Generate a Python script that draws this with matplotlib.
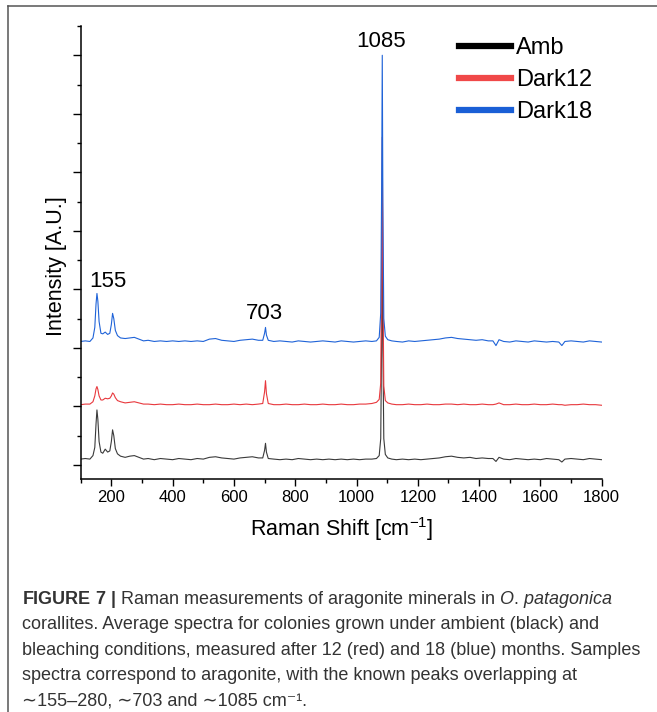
import matplotlib
matplotlib.use('Agg')
import matplotlib.pyplot as plt
from matplotlib.lines import Line2D
from matplotlib.ticker import MultipleLocator

# Raman shift [cm-1] sampled from the figure
wavenumber = [100, 115, 130, 140, 146, 150, 153, 156, 160, 166,
              172, 180, 188, 195, 200, 204, 208, 213, 220, 230,
              245, 260, 275, 290, 305, 320, 340, 360, 380, 400,
              420, 440, 460, 480, 500, 520, 540, 560, 580, 600,
              620, 640, 660, 680, 694, 700, 703, 706, 712, 730,
              750, 770, 790, 810, 830, 850, 870, 890, 910, 930,
              950, 970, 990, 1010, 1030, 1050, 1065, 1074, 1079, 1082,
              1084, 1086, 1089, 1094, 1102, 1115, 1130, 1150, 1170, 1190,
              1210, 1230, 1250, 1270, 1290, 1310, 1330, 1350, 1370, 1390,
              1410, 1430, 1445, 1455, 1465, 1480, 1500, 1520, 1540, 1560,
              1580, 1600, 1620, 1640, 1660, 1670, 1680, 1700, 1720, 1740,
              1760, 1780, 1800]

amb = [0.10, 0.11, 0.10, 0.16, 0.30, 0.70, 0.94, 0.78, 0.40, 0.22,
       0.20, 0.27, 0.22, 0.24, 0.40, 0.60, 0.50, 0.28, 0.19, 0.15,
       0.13, 0.15, 0.16, 0.13, 0.10, 0.11, 0.09, 0.11, 0.10, 0.09,
       0.11, 0.10, 0.09, 0.11, 0.10, 0.13, 0.14, 0.12, 0.11, 0.10,
       0.12, 0.13, 0.14, 0.12, 0.12, 0.25, 0.37, 0.22, 0.11, 0.10,
       0.09, 0.10, 0.09, 0.11, 0.10, 0.09, 0.10, 0.09, 0.10, 0.09,
       0.10, 0.09, 0.10, 0.09, 0.10, 0.10, 0.11, 0.16, 0.45, 2.20,
       4.30, 2.00, 0.45, 0.18, 0.12, 0.10, 0.09, 0.10, 0.09, 0.10,
       0.09, 0.10, 0.11, 0.12, 0.14, 0.15, 0.13, 0.12, 0.13, 0.11,
       0.12, 0.11, 0.11, 0.06, 0.13, 0.10, 0.09, 0.11, 0.10, 0.09,
       0.10, 0.09, 0.11, 0.10, 0.09, 0.05, 0.10, 0.11, 0.10, 0.09,
       0.11, 0.10, 0.09]

dark12 = [1.03, 1.04, 1.04, 1.08, 1.18, 1.30, 1.34, 1.29, 1.18, 1.11,
          1.11, 1.14, 1.13, 1.14, 1.18, 1.23, 1.21, 1.15, 1.10, 1.08,
          1.06, 1.07, 1.08, 1.06, 1.04, 1.04, 1.03, 1.04, 1.03, 1.03,
          1.04, 1.03, 1.03, 1.04, 1.03, 1.03, 1.04, 1.03, 1.03, 1.04,
          1.03, 1.04, 1.03, 1.04, 1.05, 1.25, 1.44, 1.22, 1.05, 1.03,
          1.03, 1.04, 1.03, 1.03, 1.04, 1.03, 1.03, 1.04, 1.03, 1.03,
          1.04, 1.03, 1.03, 1.04, 1.04, 1.05, 1.07, 1.12, 1.40, 3.50,
          5.60, 3.20, 1.35, 1.10, 1.06, 1.04, 1.03, 1.03, 1.04, 1.03,
          1.03, 1.04, 1.03, 1.03, 1.04, 1.04, 1.03, 1.04, 1.03, 1.03,
          1.04, 1.03, 1.03, 1.04, 1.06, 1.03, 1.03, 1.04, 1.03, 1.03,
          1.04, 1.03, 1.03, 1.04, 1.03, 1.03, 1.02, 1.03, 1.03, 1.04,
          1.03, 1.03, 1.02]

dark18 = [2.11, 2.12, 2.11, 2.17, 2.35, 2.75, 2.93, 2.80, 2.45, 2.25,
          2.24, 2.27, 2.23, 2.25, 2.40, 2.59, 2.50, 2.30, 2.21, 2.17,
          2.16, 2.17, 2.18, 2.15, 2.12, 2.13, 2.11, 2.12, 2.11, 2.12,
          2.11, 2.12, 2.11, 2.12, 2.11, 2.15, 2.16, 2.13, 2.12, 2.11,
          2.13, 2.14, 2.15, 2.13, 2.13, 2.25, 2.35, 2.22, 2.13, 2.11,
          2.12, 2.11, 2.10, 2.12, 2.11, 2.10, 2.11, 2.12, 2.11, 2.10,
          2.12, 2.11, 2.10, 2.11, 2.12, 2.11, 2.12, 2.18, 2.60, 4.80,
          7.00, 4.50, 2.50, 2.20, 2.14, 2.12, 2.11, 2.10, 2.12, 2.11,
          2.12, 2.13, 2.14, 2.15, 2.17, 2.18, 2.16, 2.15, 2.14, 2.13,
          2.14, 2.12, 2.12, 2.04, 2.14, 2.11, 2.10, 2.12, 2.11, 2.10,
          2.12, 2.11, 2.10, 2.11, 2.10, 2.04, 2.11, 2.12, 2.11, 2.10,
          2.12, 2.11, 2.10]

series_names = ['Amb', 'Dark12', 'Dark18']
peak_labels = ['155', '703', '1085']

caption_lines = [
    r'$\mathbf{FIGURE}$ $\mathbf{7}$ $\mathbf{|}$ Raman measurements of aragonite minerals in $\mathit{O.\,patagonica}$',
    'corallites. Average spectra for colonies grown under ambient (black) and',
    'bleaching conditions, measured after 12 (red) and 18 (blue) months. Samples',
    'spectra correspond to aragonite, with the known peaks overlapping at',
    '\u223c155\u2013280, \u223c703 and \u223c1085 cm\u207b\u00b9.',
]

LINE_COLORS = ['#3a3a3a', '#E8383D', '#1F63D8']
LEGEND_COLORS = ['#000000', '#F04848', '#1A5FD6']

plt.rcParams['font.family'] = ['Liberation Sans', 'DejaVu Sans']
plt.rcParams['mathtext.fontset'] = 'custom'
plt.rcParams['mathtext.rm'] = 'Liberation Sans'
plt.rcParams['mathtext.it'] = 'Liberation Sans:italic'
plt.rcParams['mathtext.bf'] = 'Liberation Sans:bold'

W, H = 657, 712
fig = plt.figure(figsize=(W / 100, H / 100), dpi=100)
ax = fig.add_axes([80.7 / W, 1 - 479 / H, 521 / W, 453 / H])

for ys, c in zip([amb, dark12, dark18], LINE_COLORS):
    ax.plot(wavenumber, ys, color=c, lw=0.8)

ax.set_xlim(100, 1800)
ax.set_ylim(-0.24, 7.5)
ax.xaxis.set_major_locator(MultipleLocator(200))
ax.xaxis.set_minor_locator(MultipleLocator(100))
ax.yaxis.set_major_locator(MultipleLocator(1))
ax.yaxis.set_minor_locator(MultipleLocator(0.5))
ax.set_yticklabels([])
ax.spines['top'].set_visible(False)
ax.spines['right'].set_visible(False)
for s in ['left', 'bottom']:
    ax.spines[s].set_linewidth(1.1)
ax.tick_params(axis='both', which='major', direction='out', width=1.0, labelsize=12, pad=3)
ax.tick_params(axis='y', which='major', length=6)
ax.tick_params(axis='y', which='minor', length=3, width=1.0)
ax.tick_params(axis='x', which='major', length=5)
ax.tick_params(axis='x', which='minor', length=3, width=1.0)

ax.set_xlabel('Raman Shift [cm$^{-1}$]', fontsize=15.5, labelpad=7)
ax.set_ylabel('Intensity [A.U.]', fontsize=15.5)
ax.yaxis.set_label_coords(-0.027, 0.47)

# peak labels
ax.text(189, 3.13, peak_labels[0], fontsize=16, ha='center', va='center')
ax.text(701, 2.58, peak_labels[1], fontsize=16, ha='center', va='center')
ax.text(1081, 7.23, peak_labels[2], fontsize=16, ha='center', va='center')

handles = [Line2D([], [], color=c, lw=4.5) for c in LEGEND_COLORS]
fig.legend(handles, series_names, loc='upper left', bbox_to_anchor=(459 / W, 1 - 37 / H),
           frameon=False, fontsize=17, handlelength=2.2, handletextpad=0.2,
           labelspacing=0.42, borderpad=0, borderaxespad=0)

# page frame (only left and top edges are in view)
fig.add_artist(Line2D([8 / W, 8 / W], [0, 1 - 6 / H], color='#555555', lw=1.1))
fig.add_artist(Line2D([8 / W, 1], [1 - 6 / H, 1 - 6 / H], color='#555555', lw=1.1))

y0 = 604
for i, line in enumerate(caption_lines):
    fig.text(22 / W, 1 - (y0 + i * 25.4) / H, line, fontsize=13, color='#333333',
             ha='left', va='baseline')

fig.savefig('out.png', dpi=100)
